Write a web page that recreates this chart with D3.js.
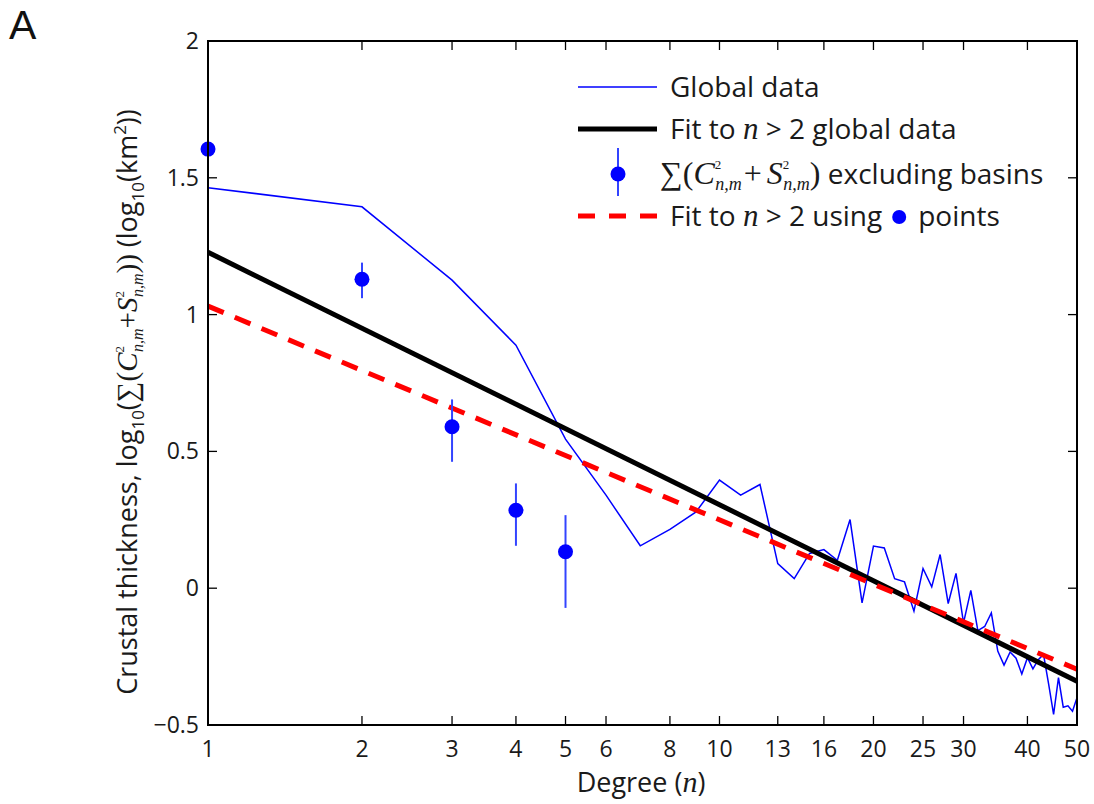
<!DOCTYPE html>
<html>
<head>
<meta charset="utf-8">
<script src="https://cdn.jsdelivr.net/npm/d3@7/dist/d3.min.js"></script>
<style>
  html, body { margin: 0; padding: 0; background: #fff; }
  svg { display: block; }
</style>
</head>
<body>
<svg id="chart" width="1094" height="804"></svg>
<script>
// ---------------- data ----------------
const degrees = [1,2,3,4,5,6,7,8,9,10,11,12,13,14,15,16,17,18,19,20,21,22,23,24,25,26,27,28,29,30,31,32,33,34,35,36,37,38,39,40,41,42,43,44,45,46,47,48,49,50];
const globalData = [1.464,1.394,1.126,0.888,0.545,0.34,0.155,0.215,0.279,0.395,
                    0.340,0.379,0.090,0.035,0.127,0.141,0.102,0.251,-0.054,0.154,
                    0.147,0.035,0.023,-0.084,0.072,0.005,0.123,-0.056,0.054,-0.127,
                    -0.008,-0.155,-0.14,-0.090,-0.230,-0.281,-0.233,-0.256,-0.314,-0.254,
                    -0.295,-0.261,-0.242,-0.35,-0.461,-0.327,-0.435,-0.430,-0.450,-0.40];
const pointDegrees = [1,2,3,4,5];
const pointValues  = [1.605,1.129,0.590,0.285,0.133];
const pointLow     = [1.540,1.060,0.462,0.155,-0.072];
const pointHigh    = [1.667,1.190,0.690,0.383,0.267];
const fitDegrees      = [1,50];
const fitGlobalValues = [1.228,-0.340];
const fitPointValues  = [1.031,-0.296];
const xTickValues = [1,2,3,4,5,6,8,10,13,16,20,25,30,40,50];
const yTickValues = [-0.5,0,0.5,1,1.5,2];

// ---------------- layout ----------------
const svg = d3.select("#chart");
const L = 208, R = 1077, T = 41, B = 725;
const SANS = "'Open Sans', 'DejaVu Sans', sans-serif";
const SERIF = "'Liberation Serif', 'DejaVu Serif', serif";

const x = d3.scaleLog().domain([1,50]).range([L,R]);
const y = d3.scaleLinear().domain([-0.5,2]).range([B,T]);

// ---------------- marks ----------------
const line = d3.line().x(d => x(d[0])).y(d => y(d[1]));

svg.append("path")
  .datum(degrees.map((d,i) => [d, globalData[i]]))
  .attr("d", line).attr("fill","none").attr("stroke","#0000ff").attr("stroke-width",1.5);

svg.append("path")
  .datum(fitDegrees.map((d,i) => [d, fitGlobalValues[i]]))
  .attr("d", line).attr("fill","none").attr("stroke","#000").attr("stroke-width",5);

svg.append("path")
  .datum(fitDegrees.map((d,i) => [d, fitPointValues[i]]))
  .attr("d", line).attr("fill","none").attr("stroke","#ff0000").attr("stroke-width",5)
  .attr("stroke-dasharray","17,12");

const pts = svg.append("g");
pts.selectAll("line").data(pointDegrees).join("line")
  .attr("x1", d => x(d)).attr("x2", d => x(d))
  .attr("y1", (d,i) => y(pointLow[i])).attr("y2", (d,i) => y(pointHigh[i]))
  .attr("stroke","#3344ff").attr("stroke-width",2);
pts.selectAll("circle").data(pointDegrees).join("circle")
  .attr("cx", d => x(d)).attr("cy", (d,i) => y(pointValues[i]))
  .attr("r",7.5).attr("fill","#0000ff");

// ---------------- axes ----------------
const axG = svg.append("g").attr("font-family", SANS).attr("font-size", 23).attr("fill","#1a1a1a");
const tick = 9;
axG.append("rect").attr("x",L).attr("y",T).attr("width",R-L).attr("height",B-T)
  .attr("fill","none").attr("stroke","#000").attr("stroke-width",2);
xTickValues.forEach(v => {
  axG.append("line").attr("x1",x(v)).attr("x2",x(v)).attr("y1",B).attr("y2",B-tick).attr("stroke","#000").attr("stroke-width",1.3);
  axG.append("line").attr("x1",x(v)).attr("x2",x(v)).attr("y1",T).attr("y2",T+tick).attr("stroke","#000").attr("stroke-width",1.3);
  axG.append("text").attr("x",x(v)).attr("y",757).attr("text-anchor","middle").text(d3.format("d")(v));
});
yTickValues.forEach(v => {
  axG.append("line").attr("x1",L).attr("x2",L+tick).attr("y1",y(v)).attr("y2",y(v)).attr("stroke","#000").attr("stroke-width",1.3);
  axG.append("line").attr("x1",R).attr("x2",R-tick).attr("y1",y(v)).attr("y2",y(v)).attr("stroke","#000").attr("stroke-width",1.3);
  axG.append("text").attr("x",L-9).attr("y",y(v)+8).attr("text-anchor","end")
    .text(v < 0 ? "\u2212" + Math.abs(v) : String(v));
});

// helper to build rich text from spans
function rich(textSel, spans) {
  spans.forEach(s => {
    const t = textSel.append("tspan").text(s.t);
    if (s.font) t.attr("font-family", s.font);
    if (s.size) t.attr("font-size", s.size);
    if (s.it) t.attr("font-style","italic");
    if (s.dx) t.attr("dx", s.dx);
    if (s.dy) t.attr("dy", s.dy);
  });
}

// x label
const xl = svg.append("text").attr("x", 641).attr("y", 792).attr("text-anchor","middle")
  .attr("font-family", SANS).attr("font-size", 27).attr("fill","#1a1a1a");
rich(xl, [{t:"Degree ("},{t:"n", font:SERIF, it:true, size:30},{t:")"}]);

// y label
const yl = svg.append("text").attr("transform","translate(137,402) rotate(-90)").attr("text-anchor","middle")
  .attr("font-family", SANS).attr("font-size", 27).attr("fill","#1a1a1a");
rich(yl, [
  {t:"Crustal thickness, log"},
  {t:"10", size:17, dy:7},
  {t:"(", dy:-7},
  {t:"\u2211(", font:SERIF, size:29},
  {t:"C", font:SERIF, it:true, size:29},
  {t:"2", font:SERIF, size:13, dy:-13},
  {t:"n,m", font:SERIF, it:true, size:16, dx:-6, dy:19},
  {t:"+", font:SERIF, size:29, dy:-6},
  {t:"S", font:SERIF, it:true, size:29},
  {t:"2", font:SERIF, size:13, dy:-13},
  {t:"n,m", font:SERIF, it:true, size:16, dx:-6, dy:19},
  {t:"))", font:SERIF, size:29, dy:-6},
  {t:" (log"},
  {t:"10", size:17, dy:7},
  {t:"(km", dy:-7},
  {t:"2", size:17, dy:-11},
  {t:"))", dy:11}
]);

// panel letter
svg.append("text").attr("x", 9).attr("y", 39).attr("font-family", "'Liberation Sans', Arial, sans-serif")
  .attr("font-size", 41).attr("fill","#111").text("A");

// ---------------- legend ----------------
const lg = svg.append("g").attr("font-family", SANS).attr("font-size", 28).attr("fill","#1a1a1a");
const lx1 = 578, lx2 = 657, tx = 670;
lg.append("line").attr("x1",lx1).attr("x2",lx2).attr("y1",87).attr("y2",87).attr("stroke","#0000ff").attr("stroke-width",1.5);
lg.append("text").attr("x",tx).attr("y",97).text("Global data");

lg.append("line").attr("x1",lx1).attr("x2",lx2).attr("y1",129).attr("y2",129).attr("stroke","#000").attr("stroke-width",5);
const t2 = lg.append("text").attr("x",tx).attr("y",139);
rich(t2, [{t:"Fit to "},{t:"n", font:SERIF, it:true, size:31},{t:" > 2 global data"}]);

lg.append("line").attr("x1",618).attr("x2",618).attr("y1",148).attr("y2",196).attr("stroke","#3344ff").attr("stroke-width",2);
lg.append("circle").attr("cx",618).attr("cy",174).attr("r",7.5).attr("fill","#0000ff");
const t3 = lg.append("text").attr("x",660).attr("y",184);
rich(t3, [
  {t:"\u2211(", font:SERIF, size:32},
  {t:"C", font:SERIF, it:true, size:32},
  {t:"2", font:SERIF, size:13, dy:-15},
  {t:"n,m", font:SERIF, it:true, size:18, dx:-6, dy:21},
  {t:"+", font:SERIF, size:32, dx:2, dy:-6},
  {t:"S", font:SERIF, it:true, size:32, dx:5},
  {t:"2", font:SERIF, size:13, dy:-15},
  {t:"n,m", font:SERIF, it:true, size:18, dx:-6, dy:21},
  {t:")", font:SERIF, size:32, dy:-6},
  {t:" excluding basins"}
]);

lg.append("line").attr("x1",lx1).attr("x2",lx2).attr("y1",216).attr("y2",216).attr("stroke","#ff0000").attr("stroke-width",5)
  .attr("stroke-dasharray","17,14");
const t4 = lg.append("text").attr("x",tx).attr("y",226);
rich(t4, [{t:"Fit to "},{t:"n", font:SERIF, it:true, size:31},{t:" > 2 using"}]);
const t4w = t4.node().getComputedTextLength();
lg.append("circle").attr("cx", tx + t4w + 17).attr("cy", 217).attr("r", 7).attr("fill","#0000ff");
lg.append("text").attr("x", tx + t4w + 36).attr("y",226).text("points");
</script>
</body>
</html>
